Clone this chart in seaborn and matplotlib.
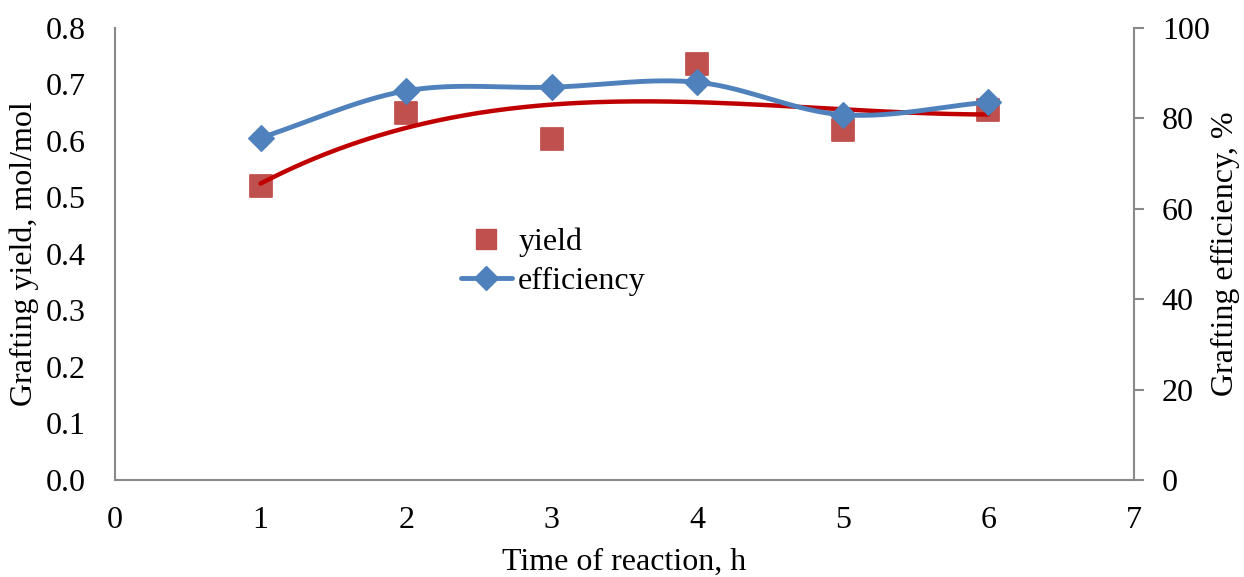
import numpy as np
import pandas as pd
import matplotlib
matplotlib.use("Agg")
import matplotlib.pyplot as plt
import seaborn as sns

time_h = [1, 2, 3, 4, 5, 6]
yield_vals = [0.520, 0.650, 0.604, 0.736, 0.619, 0.655]
efficiency_vals = [75.7, 86.1, 86.9, 88.0, 80.8, 83.6]

sns.set_style("white")
plt.rcParams['font.family'] = ['Liberation Serif', 'DejaVu Serif']
plt.rcParams['text.color'] = 'black'
plt.rcParams['axes.labelcolor'] = 'black'

def catmull_rom(x, y, n=30):
    x = np.asarray(x, float); y = np.asarray(y, float)
    px = np.concatenate([[2*x[0]-x[1]], x, [2*x[-1]-x[-2]]])
    py = np.concatenate([[2*y[0]-y[1]], y, [2*y[-1]-y[-2]]])
    xs, ys = [], []
    t = np.linspace(0, 1, n)
    for i in range(1, len(px)-2):
        p0, p1, p2, p3 = (np.array([px[j], py[j]]) for j in (i-1, i, i+1, i+2))
        pts = 0.5*((2*p1)[None, :] + (-p0+p2)[None, :]*t[:, None]
                   + (2*p0-5*p1+4*p2-p3)[None, :]*(t**2)[:, None]
                   + (-p0+3*p1-3*p2+p3)[None, :]*(t**3)[:, None])
        xs.append(pts[:, 0]); ys.append(pts[:, 1])
    return np.concatenate(xs), np.concatenate(ys)

df = pd.DataFrame({"time": time_h, "yield": yield_vals, "eff": efficiency_vals})

fig = plt.figure(figsize=(12.44, 5.77), dpi=100)
ax = fig.add_axes([115/1244, 1-480/577, (1134-115)/1244, (480-28)/577])
ax2 = ax.twinx()

# trend line (polynomial fit)
coef = np.polyfit(time_h, yield_vals, 3)
tx = np.linspace(1, 6, 200)
trend = pd.DataFrame({"t": tx, "y": np.polyval(coef, tx)})
sns.lineplot(data=trend, x="t", y="y", ax=ax, color="#C00000", lw=3.2, zorder=3)
sns.scatterplot(data=df, x="time", y="yield", ax=ax, marker="s", s=260,
                color="#C0504D", edgecolor="#C0504D", zorder=2)

sx, sy = catmull_rom(time_h, efficiency_vals)
smooth = pd.DataFrame({"t": sx, "e": sy})
sns.lineplot(data=smooth, x="t", y="e", ax=ax2, color="#4F81BD", lw=3.5, zorder=3)
sns.scatterplot(data=df, x="time", y="eff", ax=ax2, marker="D", s=170,
                color="#4F81BD", edgecolor="#4F81BD", zorder=4)

ax.set_xlim(0, 7)
ax.set_ylim(0, 0.8)
ax2.set_ylim(0, 100)
ax.set_xticks(range(0, 8))
ax.set_yticks(np.arange(0, 0.81, 0.1))
ax.set_yticklabels([f"{v:.1f}" for v in np.arange(0, 0.81, 0.1)])
ax2.set_yticks(range(0, 101, 20))

gray = "#898989"
for a in (ax, ax2):
    for s in a.spines.values():
        s.set_visible(False)
ax.spines['left'].set_visible(True)
ax.spines['bottom'].set_visible(True)
ax2.spines['right'].set_visible(True)
for s in (ax.spines['left'], ax.spines['bottom'], ax2.spines['right']):
    s.set_color(gray); s.set_linewidth(1.5)

fs = 23
ax.tick_params(axis='y', length=0, labelsize=fs, pad=21, labelcolor='black')
ax.tick_params(axis='x', length=0, labelsize=fs, pad=19, labelcolor='black')
ax2.tick_params(axis='y', length=7, width=1.5, color=gray, labelsize=fs, pad=13,
                direction='out', labelcolor='black')

ax.set_xlabel("Time of reaction, h", fontsize=fs, labelpad=9)
ax.set_ylabel("Grafting yield, mol/mol", fontsize=fs, labelpad=5)
ax2.set_ylabel("Grafting efficiency, %", fontsize=fs, labelpad=1)

from matplotlib.lines import Line2D
handles = [Line2D([], [], marker='s', ls='none', color="#C0504D", markersize=15),
           Line2D([], [], marker='D', ls='-', lw=3.5, color="#4F81BD", markersize=12)]
leg = ax.legend(handles, ["yield", "efficiency"], loc='center', bbox_to_anchor=(0.43, 0.482),
                frameon=False, fontsize=fs, handlelength=1.6, handletextpad=0.2, labelspacing=0.3)
if ax2.get_legend():
    ax2.get_legend().remove()

fig.savefig("out.png", dpi=100)
